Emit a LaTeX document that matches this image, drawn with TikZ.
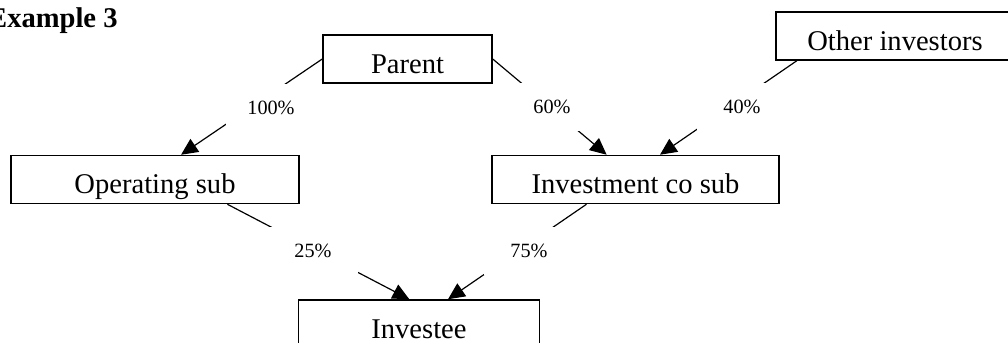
\documentclass[tikz,border=0pt]{standalone}
\usepackage{fontspec}
\setmainfont{Liberation Serif}
\usetikzlibrary{arrows.meta, calc}
\tikzset{
    entity/.style={rectangle, draw=black, line width=0.6pt, fill=white, inner xsep=0pt, inner ysep=0pt, text height=16pt, text depth=4.2pt, font=\fontsize{12}{14}\selectfont},
    pct/.style={rectangle, fill=white, minimum width=38pt, minimum height=20pt, inner sep=0pt, font=\fontsize{8.5}{10}\selectfont},
    arrow/.style={line width=0.5pt, -{Triangle[length=7pt, width=6.5pt]}},
}

\begin{document}
\begin{tikzpicture}[x=0.42pt, y=-0.42pt]
\useasboundingbox (0,0) rectangle (1008,343);

\node[anchor=base east, font=\bfseries\fontsize{12}{14}\selectfont] (title) at (126,28) {Example 3};

% ownership boxes
\node[entity, minimum width=71pt] (parent) at (407.5,59) {Parent};
\node[entity, minimum width=100pt] (other) at (895,36) {Other investors};
\node[entity, minimum width=121pt] (opsub) at (155,179.5) {Operating sub};
\node[entity, minimum width=120.5pt] (invco) at (635.5,179.5) {Investment co sub};
\node[entity, minimum width=101pt] (investee) at (419,324) {Investee};

\draw[arrow] (parent.west) -- ($(opsub.north west)!.59!(opsub.north east)$);
\draw[arrow] (parent.east) -- ($(invco.north west)!.40!(invco.north east)$);
\draw[arrow] ($(other.south west)!.09!(other.south east)$) -- ($(invco.north west)!.585!(invco.north east)$);
\draw[arrow] ($(opsub.south west)!.75!(opsub.south east)$) -- ($(investee.north west)!.46!(investee.north east)$);
\draw[arrow] ($(invco.south west)!.33!(invco.south east)$) -- ($(investee.north west)!.62!(investee.north east)$);

% percentages sit on top of the lines
\node[pct] (p100) at (271,108) {100\%};
\node[pct] (p60) at (552,107) {60\%};
\node[pct] (p40) at (742,107) {40\%};
\node[pct] (p25) at (313,251) {25\%};
\node[pct] (p75) at (529,251) {75\%};

\end{tikzpicture}
\end{document}
